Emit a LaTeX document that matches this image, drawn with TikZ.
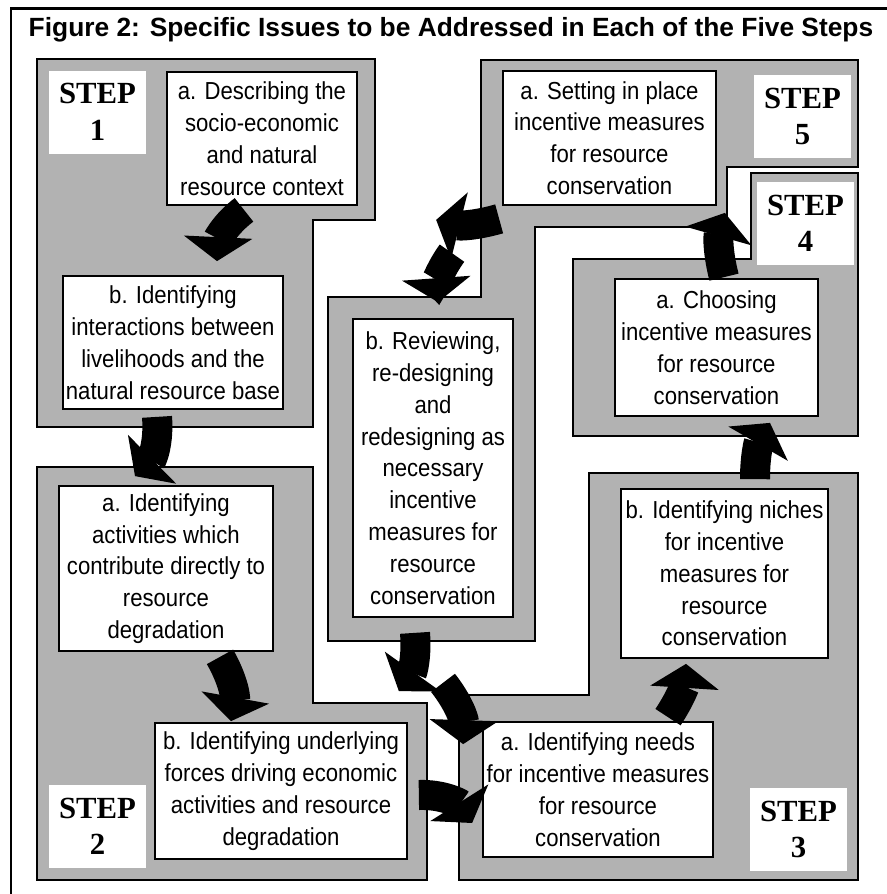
\documentclass[tikz,border=0pt]{standalone}
\usepackage{fontspec}
\setmainfont{Liberation Sans}
\newfontfamily\narrowfont[FakeStretch=0.9]{Liberation Sans}
\newfontfamily\stepfont{Liberation Serif}
\usepackage{tikz}
\usetikzlibrary{arrows.meta}
\tikzstyle{heading} = [font={\bfseries\fontsize{15}{18}\selectfont}]
\tikzstyle{region} = [draw=black, fill=black!30, line width=0.9pt]
\tikzstyle{issue} = [draw=black, fill=white, line width=1pt, align=center, inner sep=0pt, font={\narrowfont\fontsize{14}{18.1}\selectfont}]
\tikzstyle{steplabel} = [fill=white, align=center, inner sep=0pt, minimum width=1.94cm, minimum height=1.66cm, font={\stepfont\bfseries\fontsize{17.5}{20.8}\selectfont}]
\tikzstyle{flow} = [line width=0.6cm, -{Triangle[width=1.35cm,length=0.48cm]}]

\begin{document}
\begin{tikzpicture}[x=0.02cm, y=-0.02cm]
    \useasboundingbox (0,0) rectangle (887,894);
    \draw[line width=0.06cm] (887,8) -- (11,8) -- (11,894);
    \node[heading](title) at (451,30){Figure 2: Specific Issues to be Addressed in Each of the Five Steps};
    \draw[region] (37,59) -- (375,59) -- (375,220) -- (313,220) -- (313,427) -- (37,427) -- cycle;
    \draw[region] (481,60) -- (858,60) -- (858,167) -- (727,167) -- (727,227) -- (535,227) -- (535,641) -- (328,641) -- (328,297) -- (481,297) -- cycle;
    \draw[region] (751,173) -- (858,173) -- (858,436) -- (573,436) -- (573,259) -- (751,259) -- cycle;
    \draw[region] (589,473) -- (858,473) -- (858,880) -- (459,880) -- (459,695) -- (589,695) -- cycle;
    \draw[region] (37,467) -- (313,467) -- (313,703) -- (427,703) -- (427,880) -- (37,880) -- cycle;
    \node[steplabel](st1) at (97.5,112){STEP\\1};
    \node[steplabel](st2) at (97.5,826.5){STEP\\2};
    \node[steplabel](st3) at (798.5,829.5){STEP\\3};
    \node[steplabel](st4) at (805.5,223.5){STEP\\4};
    \node[steplabel](st5) at (802.5,116.5){STEP\\5};
    \node[issue,minimum width=3.8cm,minimum height=2.66cm](1a) at (262,138.5){a. Describing the\\socio-economic\\and natural\\resource context};
    \node[issue,minimum width=4.4cm,minimum height=2.66cm](1b) at (173,342.5){b. Identifying\\interactions between\\livelihoods and the\\natural resource base};
    \node[issue,minimum width=4.28cm,minimum height=3.3cm](2a) at (166,568.5){a. Identifying\\activities which\\contribute directly to\\resource\\degradation};
    \node[issue,minimum width=5.04cm,minimum height=2.72cm](2b) at (281,791){b. Identifying underlying\\forces driving economic\\activities and resource\\degradation};
    \node[issue,minimum width=4.6cm,minimum height=2.7cm](3a) at (598,789.5){a. Identifying needs\\for incentive measures\\for resource\\conservation};
    \node[issue,minimum width=4.14cm,minimum height=3.38cm](3b) at (724.5,573.5){b. Identifying niches\\for incentive\\measures for\\resource\\conservation};
    \node[issue,minimum width=4.06cm,minimum height=2.74cm](4a) at (716.5,347.5){a. Choosing\\incentive measures\\for resource\\conservation};
    \node[issue,minimum width=4.26cm,minimum height=2.68cm](5a) at (609.5,138){a. Setting in place\\incentive measures\\for resource\\conservation};
    \node[issue,minimum width=3.2cm,minimum height=5.96cm](5b) at (433,468){b. Reviewing,\\re-designing\\and\\redesigning as\\necessary\\incentive\\measures for\\resource\\conservation};
    \draw[flow]([shift={(-18,4)}]1a.south) to[bend right=25] ([shift={(44,-14)}]1b.north);
    \draw[flow]([shift={(-16,7)}]1b.south) to[bend left=25] ([shift={(-31,-9)}]2a.north);
    \draw[flow]([shift={(54,5)}]2a.south) to[bend left=20] ([shift={(-50,-1)}]2b.north);
    \draw[flow]([shift={(-18,15)}]5b.south) to[bend left=20] ([shift={(-9,-31)}]2b.north east);
    \draw[flow]([shift={(10,65)}]5b.south) to[bend left=20] ([shift={(-19,23)}]3a.north west);
    \draw[flow]([shift={(11,4)}]2b.east) to[bend left=30] ([shift={(-10,33.5)}]3a.west);
    \draw[flow]([shift={(70,-4)}]3a.north) to[bend right=15] ([shift={(-38.5,5)}]3b.south);
    \draw[flow]([shift={(30.5,-9)}]3b.north) to[bend left=15] ([shift={(53.5,6)}]4a.south);
    \draw[flow]([shift={(7.5,-1)}]4a.north) to[bend left=15] ([shift={(8,7)}]5a.south east);
    \draw[flow]([shift={(-3,13)}]5a.south west) to[bend left=15] ([shift={(-66,14)}]5a.south west);
    \draw[flow]([shift={(19,-65)}]5b.north) to[bend right=20] ([shift={(5,-16)}]5b.north);
\end{tikzpicture}
\end{document}
